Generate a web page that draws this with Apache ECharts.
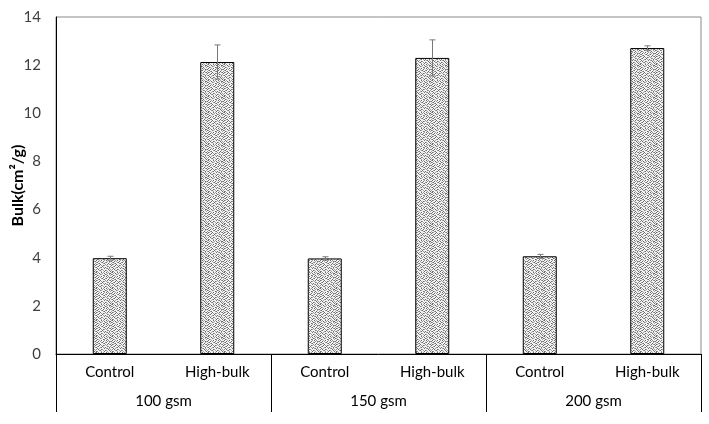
<!DOCTYPE html>
<html><head><meta charset="utf-8">
<script src="https://cdn.jsdelivr.net/npm/echarts@6/dist/echarts.min.js"></script>
<style>html,body{margin:0;padding:0;background:#fff}#c{width:709px;height:424px}</style>
</head><body><div id="c"></div>
<script>
var categories = ['Control','High-bulk','Control','High-bulk','Control','High-bulk'];
var groups = ['100 gsm','150 gsm','200 gsm'];
var values = [3.98, 12.13, 3.97, 12.30, 4.06, 12.71];
var errors = [0.08, 0.71, 0.07, 0.75, 0.08, 0.09];
var yTicks = [0, 2, 4, 6, 8, 10, 12, 14];

// irregular stipple texture for bars (fixed tile)
var tile = [
  '2010020100201001',
  '0102001020010220',
  '1000210002100102',
  '0210000210020010',
  '2001020010201000',
  '0020100200010212',
  '1200012001200100',
  '0012000120002001',
  '2100200001020120',
  '0002010210100002',
  '0120002000021010',
  '2000120102000201',
  '0201000020120100',
  '1020021000002010',
  '0001200102100201',
  '2100010020010020'
];
var cv = document.createElement('canvas');
cv.width = 16; cv.height = 16;
var cx = cv.getContext('2d');
var cols = {'0': '#f2f2f2', '1': '#a0a0a0', '2': '#6e6e6e'};
for (var r = 0; r < 16; r++) for (var c = 0; c < 16; c++) {
  cx.fillStyle = cols[tile[r][c]];
  cx.fillRect(c, r, 1, 1);
}

var chart = echarts.init(document.getElementById('c'), null, {renderer: 'canvas'});
var font = 'Lato, "Open Sans", sans-serif';
chart.setOption({
  animation: false,
  grid: {left: 56, right: 8, top: 17, bottom: 70, containLabel: false, outerBoundsMode: 'none',
         show: true, borderColor: '#8a8a8a', borderWidth: 1},
  xAxis: [{
    type: 'category', data: categories, position: 'bottom',
    axisLine: {show: true, lineStyle: {color: '#000', width: 1}},
    axisTick: {show: false},
    axisLabel: {margin: 11, fontSize: 15, color: '#000', fontFamily: font}
  }, {
    type: 'category', data: groups, position: 'bottom', gridIndex: 0,
    axisLine: {show: false},
    axisTick: {show: true, length: 58, lineStyle: {color: '#000', width: 1}},
    axisLabel: {margin: 40, fontSize: 15, color: '#000', fontFamily: font}
  }],
  yAxis: {
    type: 'value', min: yTicks[0], max: yTicks[yTicks.length - 1], interval: 2,
    name: 'Bulk(cm²/g)', nameLocation: 'middle', nameGap: 30, nameMoveOverlap: false,
    nameTextStyle: {fontSize: 16, fontWeight: 'bold', color: '#000', fontFamily: font},
    axisLine: {show: true, lineStyle: {color: '#000', width: 1}},
    axisTick: {show: false},
    splitLine: {show: false},
    axisLabel: {margin: 15, fontSize: 15, color: '#404040', fontFamily: font}
  },
  series: [{
    type: 'bar', data: values, barWidth: 34, xAxisIndex: 0,
    itemStyle: {color: {image: cv, repeat: 'repeat'}, borderColor: '#000', borderWidth: 1}
  }, {
    type: 'custom', xAxisIndex: 0, z: 10,
    data: values.map(function (v, i) { return [i, v - errors[i], v + errors[i]]; }),
    renderItem: function (params, api) {
      var lo = api.coord([api.value(0), api.value(1)]);
      var hi = api.coord([api.value(0), api.value(2)]);
      var x = Math.round(lo[0]) + 0.5, w = 3;
      var st = {stroke: '#777', lineWidth: 1};
      return {type: 'group', children: [
        {type: 'line', shape: {x1: x, y1: lo[1], x2: x, y2: hi[1]}, style: st},
        {type: 'line', shape: {x1: x - w, y1: hi[1], x2: x + w, y2: hi[1]}, style: st},
        {type: 'line', shape: {x1: x - w, y1: lo[1], x2: x + w, y2: lo[1]}, style: st}
      ]};
    }
  }]
});
</script></body></html>
